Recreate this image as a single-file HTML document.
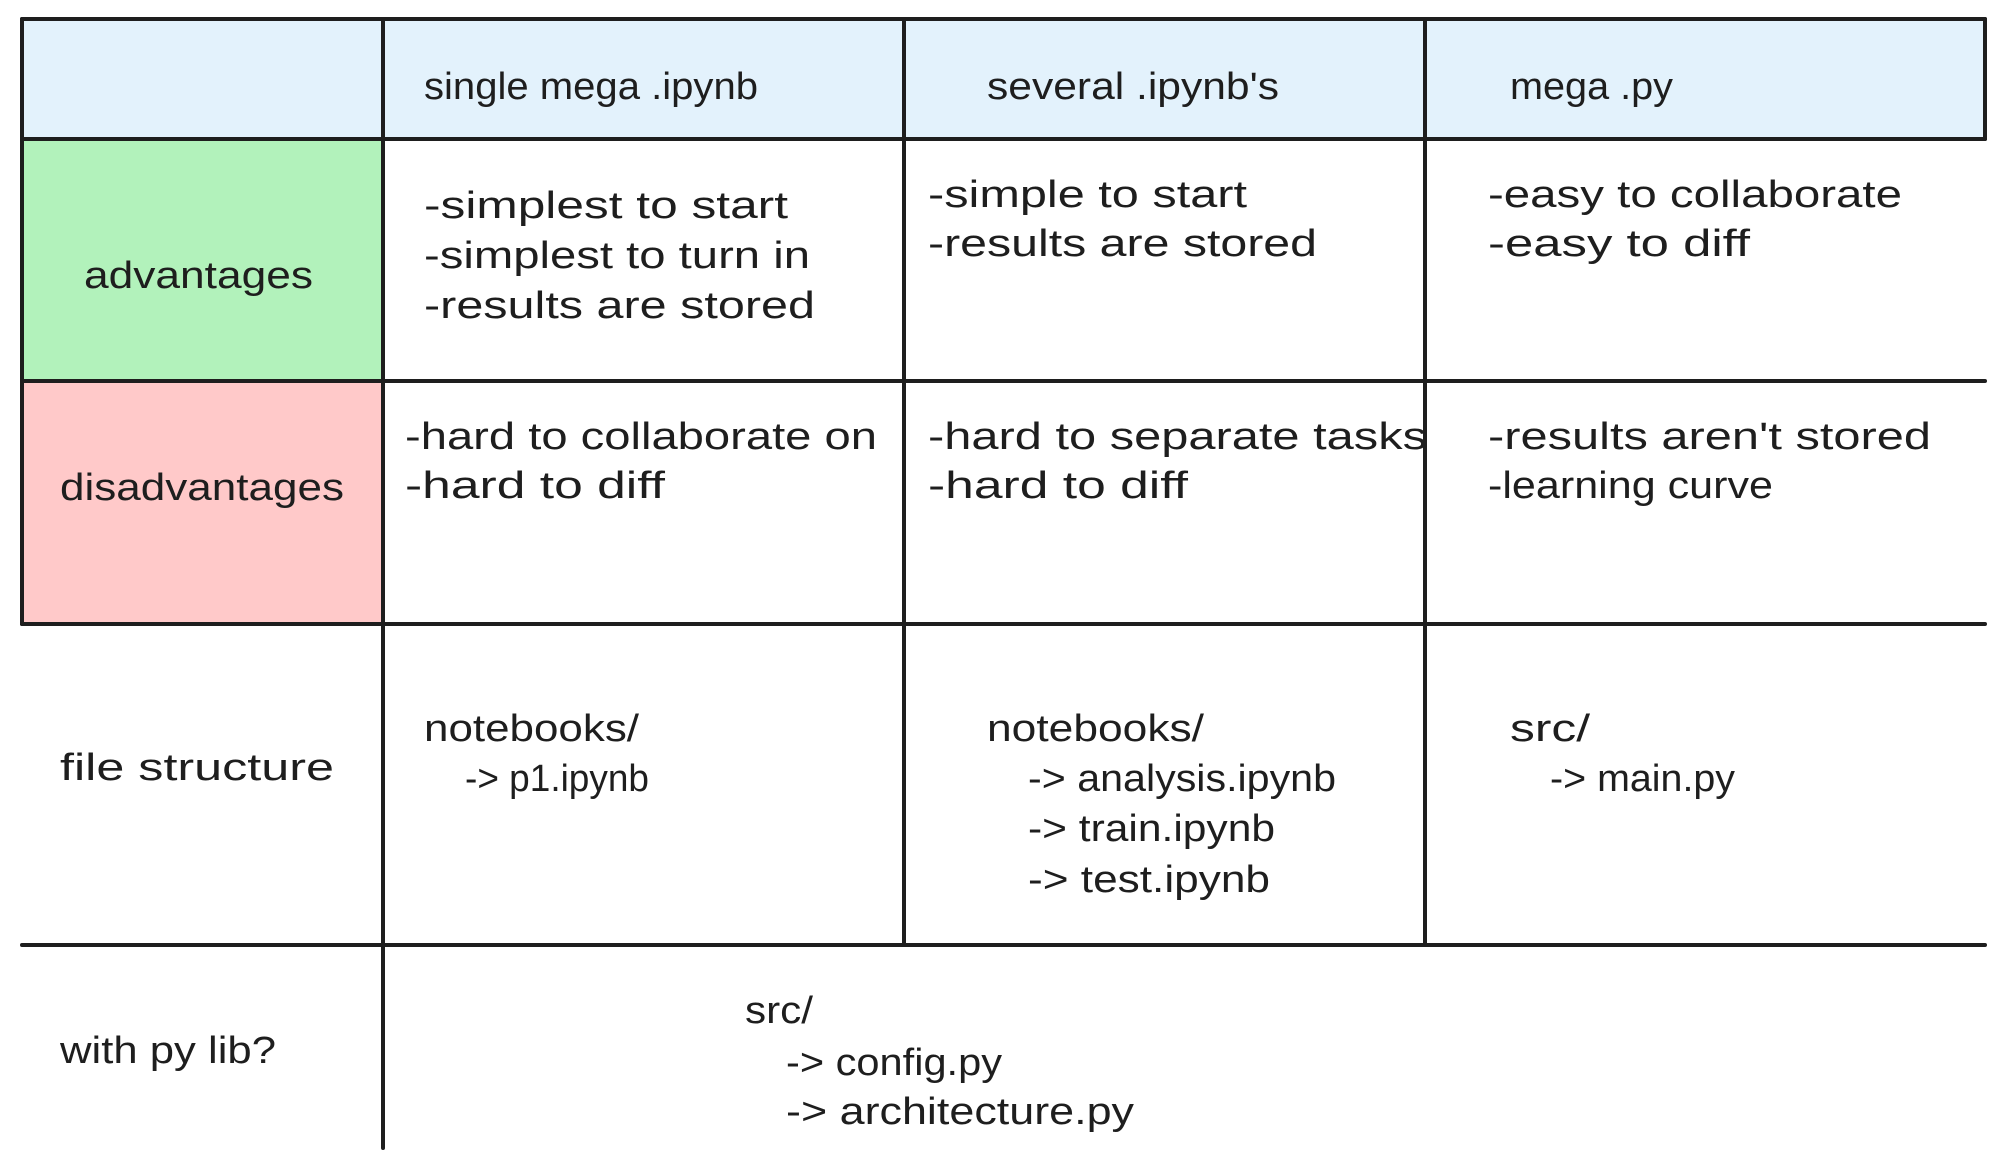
<!DOCTYPE html>
<html><head><meta charset="utf-8"><style>
html,body{margin:0;padding:0;background:#fff;}
svg{display:block}
text{font-family:"Liberation Sans",sans-serif;font-size:38px;fill:#1e1e1e;dominant-baseline:central}
</style></head><body>
<svg width="2005" height="1163" viewBox="0 0 2005 1163" xmlns="http://www.w3.org/2000/svg">
<rect x="22" y="19" width="1963" height="120" fill="#e3f2fc"/>
<rect x="22" y="139" width="361" height="242" fill="#b2f2bb"/>
<rect x="22" y="381" width="361" height="243" fill="#ffc9c9"/>
<g stroke="#1e1e1e" stroke-width="4" fill="none" stroke-linecap="round">
<line x1="22" y1="19" x2="1985" y2="19"/>
<line x1="22" y1="139" x2="1985" y2="139"/>
<line x1="22" y1="381" x2="1985" y2="381"/>
<line x1="22" y1="624" x2="1985" y2="624"/>
<line x1="22" y1="945" x2="1985" y2="945"/>
<line x1="22" y1="19" x2="22" y2="624"/>
<line x1="1985" y1="19" x2="1985" y2="139"/>
<line x1="383" y1="19" x2="383" y2="1148"/>
<line x1="904" y1="19" x2="904" y2="945"/>
<line x1="1425" y1="19" x2="1425" y2="945"/>
</g>
<g lengthAdjust="spacingAndGlyphs">
<text x="424" y="87" textLength="334" lengthAdjust="spacingAndGlyphs">single mega .ipynb</text>
<text x="987" y="87" textLength="292" lengthAdjust="spacingAndGlyphs">several .ipynb's</text>
<text x="1510" y="87" textLength="163" lengthAdjust="spacingAndGlyphs">mega .py</text>

<text x="84" y="276" textLength="229" lengthAdjust="spacingAndGlyphs">advantages</text>
<text x="424" y="206" textLength="364" lengthAdjust="spacingAndGlyphs">-simplest to start</text>
<text x="424" y="256" textLength="386" lengthAdjust="spacingAndGlyphs">-simplest to turn in</text>
<text x="424" y="306" textLength="391" lengthAdjust="spacingAndGlyphs">-results are stored</text>
<text x="928" y="195" textLength="319" lengthAdjust="spacingAndGlyphs">-simple to start</text>
<text x="928" y="244" textLength="389" lengthAdjust="spacingAndGlyphs">-results are stored</text>
<text x="1488" y="195" textLength="414" lengthAdjust="spacingAndGlyphs">-easy to collaborate</text>
<text x="1488" y="244" textLength="262" lengthAdjust="spacingAndGlyphs">-easy to diff</text>

<text x="60" y="488" textLength="284" lengthAdjust="spacingAndGlyphs">disadvantages</text>
<text x="405" y="437" textLength="472" lengthAdjust="spacingAndGlyphs">-hard to collaborate on</text>
<text x="405" y="486" textLength="260" lengthAdjust="spacingAndGlyphs">-hard to diff</text>
<text x="928" y="437" textLength="499" lengthAdjust="spacingAndGlyphs">-hard to separate tasks</text>
<text x="928" y="486" textLength="260" lengthAdjust="spacingAndGlyphs">-hard to diff</text>
<text x="1488" y="437" textLength="443" lengthAdjust="spacingAndGlyphs">-results aren't stored</text>
<text x="1488" y="486" textLength="285" lengthAdjust="spacingAndGlyphs">-learning curve</text>

<text x="60" y="768" textLength="274" lengthAdjust="spacingAndGlyphs">file structure</text>
<text x="424" y="729" textLength="215" lengthAdjust="spacingAndGlyphs">notebooks/</text>
<text x="465" y="779" textLength="184" lengthAdjust="spacingAndGlyphs">-&gt; p1.ipynb</text>
<text x="987" y="729" textLength="217" lengthAdjust="spacingAndGlyphs">notebooks/</text>
<text x="1028" y="779" textLength="308" lengthAdjust="spacingAndGlyphs">-&gt; analysis.ipynb</text>
<text x="1028" y="829" textLength="247" lengthAdjust="spacingAndGlyphs">-&gt; train.ipynb</text>
<text x="1028" y="880" textLength="242" lengthAdjust="spacingAndGlyphs">-&gt; test.ipynb</text>
<text x="1510" y="729" textLength="80" lengthAdjust="spacingAndGlyphs">src/</text>
<text x="1550" y="779" textLength="185" lengthAdjust="spacingAndGlyphs">-&gt; main.py</text>

<text x="60" y="1051" textLength="216" lengthAdjust="spacingAndGlyphs">with py lib?</text>
<text x="745" y="1011" textLength="68" lengthAdjust="spacingAndGlyphs">src/</text>
<text x="786" y="1063" textLength="216" lengthAdjust="spacingAndGlyphs">-&gt; config.py</text>
<text x="786" y="1112" textLength="348" lengthAdjust="spacingAndGlyphs">-&gt; architecture.py</text>
</g>
</svg>
</body></html>
